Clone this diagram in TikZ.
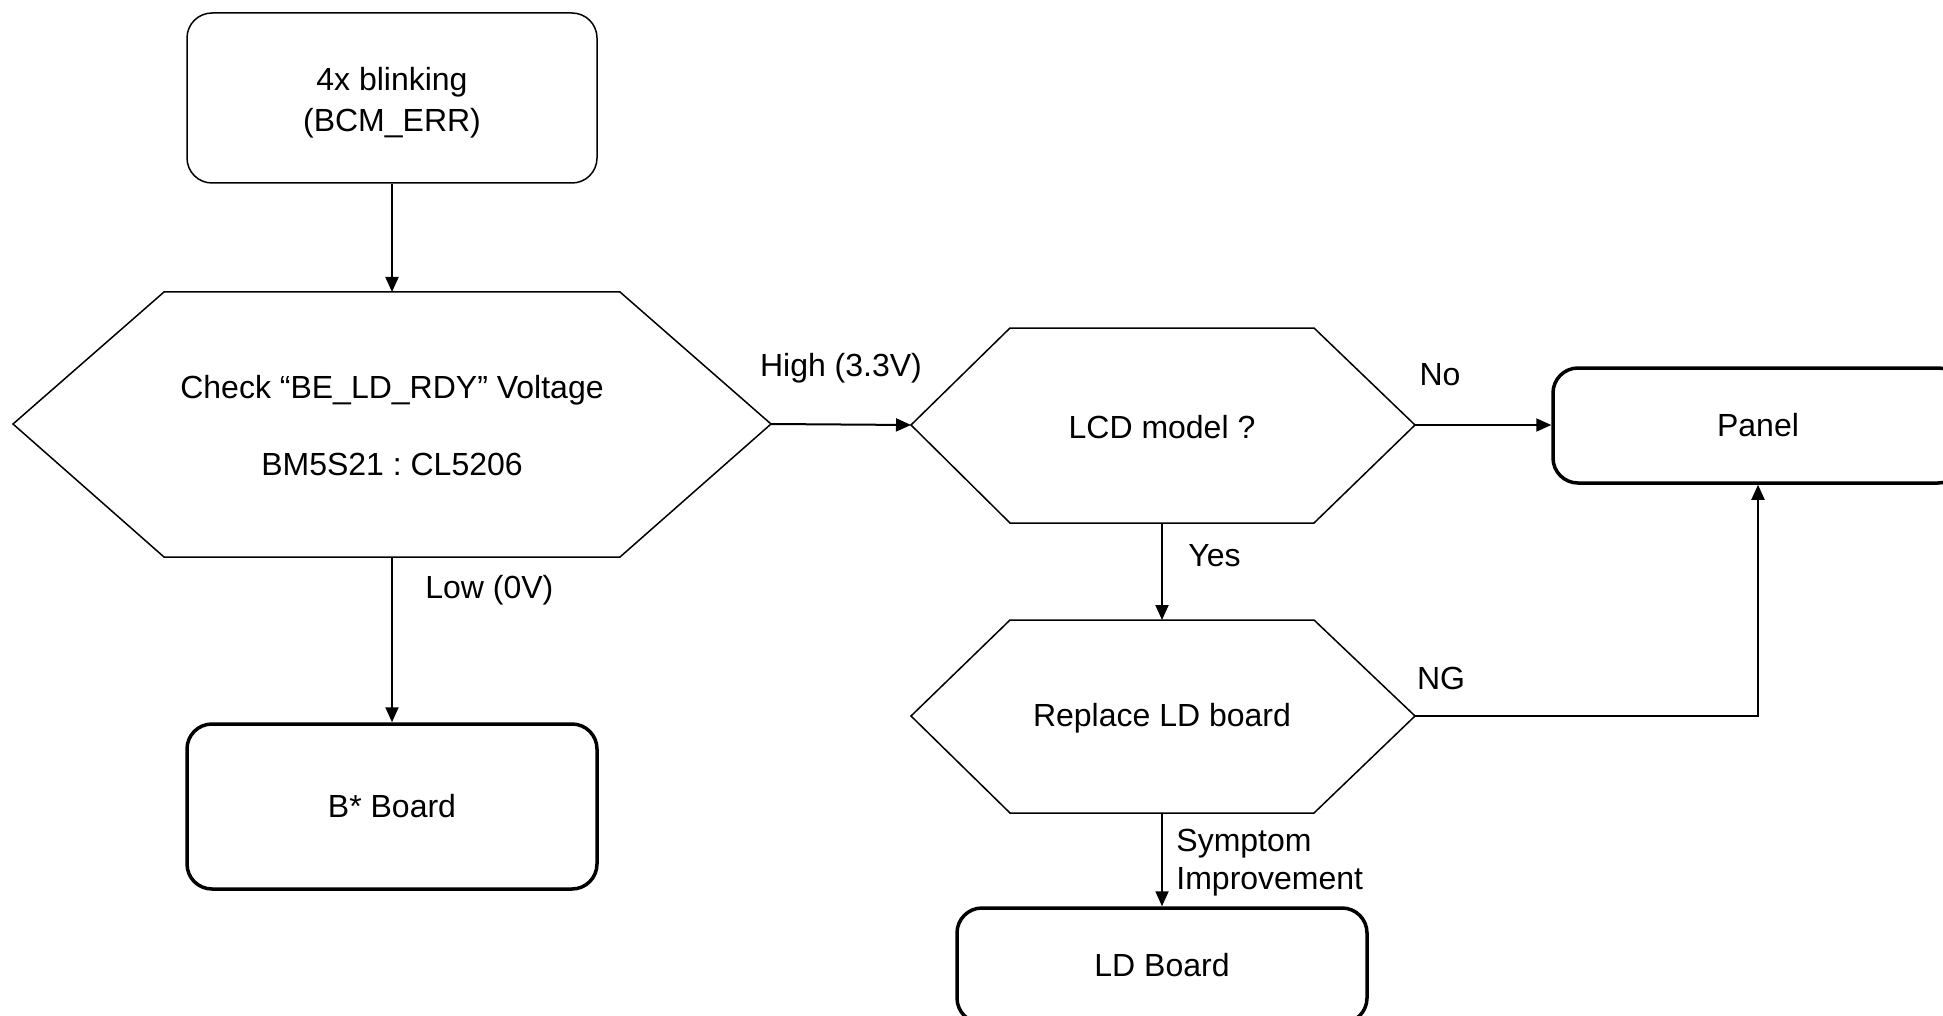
\documentclass[tikz,border=0pt]{standalone}
\usepackage{fontspec}
\setmainfont{Liberation Sans}
\frenchspacing
\usetikzlibrary{arrows.meta}
\begin{document}
\begin{tikzpicture}[x=0.5pt,y=-0.5pt,
  every node/.style={font=\fontsize{16pt}{20.5pt}\selectfont, inner sep=0pt},
  startbox/.style={draw, line width=0.75pt, rounded corners=12.5pt, minimum width=205pt, minimum height=85pt, align=center},
  endbox/.style={draw, line width=1.75pt, rounded corners=12.5pt, minimum width=205pt, align=center},
  hexline/.style={draw, line width=0.75pt, line join=miter},
  conn/.style={line width=1pt, -{Triangle[length=7.5pt,width=6.5pt]}},
  lbl/.style={align=left}]
\useasboundingbox (0,0) rectangle (1943,1016);
\clip (0,0) rectangle (1943,1016);

% start box
\node[startbox] (start) at (392,98) {\rule{0pt}{16.5pt}4x blinking\\(BCM\_ERR)};

% hexagon 1
\coordinate (chkL) at (13,424);
\coordinate (chkR) at (771,424);
\coordinate (chkT) at (392,292);
\coordinate (chkB) at (392,557);
\draw[hexline] (chkL) -- (164,292) -- (620,292) -- (chkR) -- (620,557) -- (164,557) -- cycle;
\node[align=center] (chk) at (392,426) {Check “BE\_LD\_RDY” Voltage\\[18pt]BM5S21 : CL5206};

% hexagon 2
\coordinate (lcdL) at (911,425);
\coordinate (lcdR) at (1415,425);
\coordinate (lcdT) at (1162,328);
\coordinate (lcdB) at (1162,523);
\draw[hexline] (lcdL) -- (1010,328) -- (1314,328) -- (lcdR) -- (1314,523) -- (1010,523) -- cycle;
\node (lcd) at (1162,427) {LCD model ?};

% hexagon 3
\coordinate (repL) at (911,716);
\coordinate (repR) at (1415,716);
\coordinate (repT) at (1162,620);
\coordinate (repB) at (1162,813);
\draw[hexline] (repL) -- (1010,620) -- (1314,620) -- (repR) -- (1314,813) -- (1010,813) -- cycle;
\node (rep) at (1162,718) {Replace LD board};

% end boxes
\node[endbox, minimum height=82.5pt] (bboard) at (392,806.5) {B* Board};
\node[endbox, minimum height=57.5pt] (panel) at (1758,425.5) {Panel};
\node[endbox, minimum height=57.5pt] (ldboard) at (1162,965.5) {LD Board};

% connectors
\draw[conn] (start.south) -- (chkT);
\draw[conn] (chkR) -- (lcdL);
\draw[conn] (chkB) -- (bboard.north);
\draw[conn] (lcdR) -- (panel.west |- lcdR);
\draw[conn] (lcdB) -- (repT);
\draw[conn] (repR) -| (panel.south);
\draw[conn] (repB) -- (ldboard.north);

% labels
\node (lhigh) at (841,368) {High (3.3V)};
\node[anchor=west] (llow) at (425,590) {Low (0V)};
\node (lno) at (1440,375) {No};
\node[anchor=west] (lyes) at (1188,556) {Yes};
\node (lng) at (1441,678) {NG};
\node[anchor=west, lbl, font=\fontsize{16pt}{19pt}\selectfont] (lsym) at (1176,863) {Symptom\\Improvement};
\end{tikzpicture}
\end{document}
